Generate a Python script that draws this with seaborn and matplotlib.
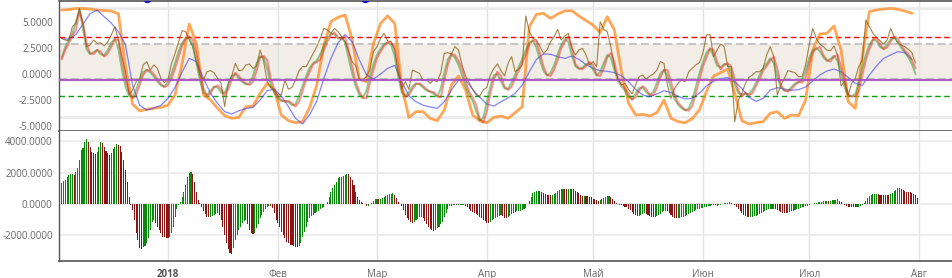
import numpy as np
import pandas as pd
import matplotlib
matplotlib.use("Agg")
import matplotlib.pyplot as plt
import seaborn as sns

# ---------------- data ----------------
START = "2017-12-02"

# thick orange envelope, every 2 days
orange = [6.15, 6.2, 6.3, 6.3, 6.25, 6.15, 6.1, 6.05, 5.8, 0.7,
          -2.9, -3.55, -3.4, -3.3, -3.2, -3.0, -2.0, 1.0, 4.8, 2.95,
          -2.0, -2.5, -3.3, -4.0, -4.26, -4.17, -3.14, -3.08, -1.86, -0.9,
          -1.54, -3.94, -4.49, -4.68, -4.58, -3.2, -1.06, 2.79, 5.03, 5.45,
          5.67, 3.3, -0.5, -0.74, 2.95, 4.87, 5.58, 4.87, -1.22, -4.17,
          -3.62, -3.62, -4.26, -4.49, -3.46, -1.06, -0.19, -1.54, -3.94, -4.49,
          -4.68, -4.17, -4.04, -4.26, -3.72, -3.14, 4.55, 5.74, 5.83, 5.35,
          5.77, 6.06, 6.09, 5.58, 5.13, 4.71, 3.97, 5.51, 4.23, 0.22,
          -2.8, -3.94, -3.88, -4.04, -3.72, -2.5, -4.26, -4.58, -4.68, -4.29,
          -3.46, -1.7, -0.19, 0.13, 0.48, -1.86, -4.49, -4.81, -4.68, -4.58,
          -3.78, -3.62, -4.26, -3.94, -4.0, -2.5, 2.3, 3.85, 3.91, 4.62,
          2.3, -2.66, -3.3, 1.67, 6.0, 6.15, 6.25, 6.31, 6.22, 6.06,
          5.83]

# slow blue line, every 2 days
blue = [3.43, 3.33, 3.8, 4.8, 5.8, 6.15, 5.5, 4.9, 4.07, 2.8,
        -1.1, -3.0, -3.46, -3.27, -3.0, -2.34, -1.28, 0.22, 1.5, 1.19,
        -0.4, -1.86, -2.82, -3.62, -3.85, -3.53, -3.33, -3.2, -2.5, -1.6,
        -1.47, -2.1, -3.14, -4.26, -4.81, -3.9, -2.6, -0.4, 1.5, 3.0,
        3.8, 3.1, 1.35, -0.06, -0.48, 0.0, 0.54, 0.83, -0.74, -2.1,
        -2.66, -3.0, -3.17, -3.3, -2.66, -1.54, -0.58, -0.58, -1.47, -2.24,
        -2.88, -3.08, -2.66, -2.3, -1.86, -1.06, 0.22, 1.41, 1.92, 1.89,
        1.67, 1.5, 1.73, 1.41, 0.9, 0.54, 0.32, 0.26, 0.13, -0.16,
        -0.74, -1.47, -2.02, -2.18, -1.92, -1.6, -1.8, -2.15, -2.4, -2.34,
        -1.86, -1.15, -0.7, -0.45, -0.35, -0.74, -1.38, -2.24, -2.63, -2.34,
        -1.54, -1.31, -1.44, -1.57, -1.5, -1.25, -0.67, -0.1, 0.29, 0.48,
        0.22, -0.32, -0.9, -1.09, -0.1, 0.77, 1.5, 1.83, 2.15, 2.05,
        1.41]

# thin brown raw line, daily
brown = [3.43, 3.27, 3.2, 4.55, 4.87, 6.3, 4.87, 2.63, 2.79, 3.27,
         2.95, 3.0, 2.7, 3.1, 3.75, 4.55, 3.27, 1.67, 0.22, -2.0,
         -1.54, -0.74, -0.42, 0.87, 1.19, 0.38, 0.87, 0.54, -0.42, -0.83,
         -0.51, 1.03, 1.99, 3.1, 4.17, 4.07, 3.27, 2.63, 1.19, -0.1,
         -0.58, 0.22, 0.32, 0.13, -0.42, -0.9, -3.14, -0.9, -0.19, 1.03,
         0.32, 0.38, 0.87, 0.96, 0.54, 0.77, 2.31, 1.19, -0.74, -1.28,
         -1.6, -2.02, -1.96, -0.58, -1.47, -1.28, -0.58, 0.32, 0.71, 0.71,
         1.35, 1.99, 2.63, 3.43, 4.39, 4.23, 3.91, 4.39, 4.07, 3.59,
         3.11, 2.15, 1.19, 0.77, -0.51, -0.58, -0.26, 0.38, 2.15, 2.63,
         3.43, 3.91, 3.2, 3.11, 2.31, 0.06, -1.38, -0.74, -1.47, 0.38,
         0.22, 0.06, -0.64, -0.58, -0.9, -0.58, -0.74, 0.13, 1.99, 2.05,
         1.92, 2.63, 2.31, 0.87, -0.19, -0.83, -1.47, -2.02, -2.12, -1.54,
         -1.28, -0.1, 0.54, 0.96, 0.32, -0.19, 1.03, 1.67, 0.22, 0.45,
         0.87, 5.58, 4.07, 3.43, 3.27, 2.63, 1.99, 2.31, 3.11, 3.59,
         4.29, 3.27, 3.65, 3.91, 2.47, 1.83, 2.31, 2.47, 1.83, 0.87,
         1.19, 0.71, 5.03, 4.29, 4.07, 2.63, 0.71, -0.51, -1.06, -0.9,
         -1.47, -1.92, -1.06, -0.26, -0.1, -0.51, -0.19, 0.0, 0.38, 1.19,
         1.03, -1.06, -2.34, -1.38, -0.9, -0.58, -0.74, 0.22, 0.54, 0.87,
         1.09, 1.99, 3.75, 3.81, 1.67, 2.31, 2.88, 2.63, 0.71, 0.71,
         -4.58, -2.5, -1.86, -0.9, -0.32, -0.1, 0.22, 0.22, 0.54, 1.83,
         2.63, 1.67, -2.02, -1.06, -0.42, 0.32, 0.22, 0.13, -0.26, -0.26,
         0.87, 2.79, 4.39, 3.43, 2.88, 2.63, 2.31, 2.24, 2.69, 1.83,
         -1.15, -0.74, -2.02, -0.9, -0.42, 0.71, 1.35, 5.19, 4.55, 3.91,
         3.53, 3.2, 2.88, 3.27, 4.39, 3.59, 3.01, 2.79, 2.63, 2.37,
         2.05, 1.03]

# smoothed red line, daily
red = [1.41, 2.31, 2.95, 3.65, 4.23, 6.0, 4.9, 2.95, 1.99, 1.92,
       2.31, 2.15, 1.67, 1.99, 2.63, 3.33, 3.27, 1.35, -0.58, -1.7,
       -2.34, -2.02, -1.06, -0.1, 0.38, 0.32, 0.0, -0.51, -0.96, -1.28,
       -1.06, -0.42, 0.54, 1.67, 2.69, 3.4, 3.6, 3.3, 1.99, 0.22,
       -1.38, -2.12, -1.86, -1.28, -1.09, -1.47, -2.02, -1.47, -0.58, 0.13,
       -0.19, -0.64, -0.9, -1.06, -0.74, 0.32, 1.6, 1.73, 1.35, -0.42,
       -1.47, -2.18, -2.5, -2.66, -2.56, -2.82, -3.14, -2.66, -1.6, -0.58,
       0.22, 0.96, 1.15, 1.41, 2.31, 3.11, 3.75, 4.0, 3.53, 3.33,
       3.59, 2.24, 0.71, -0.74, -1.7, -2.28, -2.34, -0.9, 0.38, 1.51,
       2.15, 2.69, 3.08, 2.95, 2.63, 0.71, -1.38, -2.18, -2.02, -1.47,
       -0.96, -0.9, -1.15, -1.47, -1.7, -1.73, -2.12, -2.24, -0.58, 0.87,
       1.92, 1.83, 1.28, 0.54, -0.74, -1.7, -2.24, -3.0, -4.3, -4.68,
       -3.6, -1.86, -0.51, 0.22, -0.19, -1.22, -1.54, -1.22, -0.42, 0.32,
       1.09, 1.83, 2.79, 3.27, 3.11, 1.99, 0.71, -0.1, -0.19, 0.38,
       1.35, 2.47, 3.11, 3.59, 2.63, 0.96, 0.54, 0.45, 0.77, 1.15,
       0.87, -0.1, -0.19, 0.54, 1.6, 2.05, 1.19, -0.32, -0.96, -1.38,
       -1.86, -2.5, -2.24, -1.6, -1.15, -1.47, -2.02, -2.02, -1.38, -0.32,
       0.38, 0.38, -0.74, -2.02, -2.76, -3.14, -3.46, -3.53, -3.08, -1.86,
       -0.58, 0.71, 1.6, 2.47, 2.31, 1.19, 0.45, 0.87, 1.03, 0.77,
       -0.51, -1.54, -2.18, -1.79, -2.02, -1.86, -1.15, -0.51, 0.32, 0.77,
       1.28, 1.67, 0.54, -1.06, -1.54, -1.7, -1.47, -1.06, -0.77, -0.83,
       -0.42, 1.03, 2.05, 2.44, 2.6, 1.83, 1.35, 1.19, 1.67, 1.83,
       0.71, -0.64, -1.92, -2.18, -2.12, -1.7, -0.1, 1.35, 2.37, 3.27,
       3.46, 2.88, 2.37, 2.56, 3.11, 3.59, 3.43, 2.79, 2.24, 1.92,
       1.35, 0.54]

# smoothed green line (slightly leading), daily
green = [1.6, 2.6, 3.3, 3.9, 5.0, 6.2, 4.3, 2.4, 1.9, 2.1,
         2.3, 1.9, 1.8, 2.3, 3.0, 3.4, 2.4, 0.4, -1.2, -2.1,
         -2.2, -1.5, -0.6, 0.2, 0.4, 0.15, -0.25, -0.75, -1.1, -1.2,
         -0.75, 0.05, 1.1, 2.2, 3.0, 3.5, 3.5, 2.7, 1.1, -0.6,
         -1.8, -2.0, -1.6, -1.2, -1.3, -1.8, -1.8, -1.0, -0.2, 0.0,
         -0.4, -0.8, -1.0, -0.9, -0.2, 1.0, 1.7, 1.6, 0.5, -1.0,
         -1.8, -2.35, -2.6, -2.6, -2.7, -3.0, -2.9, -2.1, -1.1, -0.2,
         0.6, 1.05, 1.3, 1.9, 2.7, 3.45, 3.9, 3.8, 3.4, 3.5,
         3.0, 1.5, 0.0, -1.2, -2.0, -2.3, -1.6, -0.2, 0.95, 1.85,
         2.4, 2.9, 3.0, 2.8, 1.7, -0.3, -1.8, -2.1, -1.75, -1.2,
         -0.9, -1.0, -1.3, -1.6, -1.7, -1.9, -2.2, -1.4, 0.15, 1.4,
         1.9, 1.55, 0.9, -0.1, -1.2, -2.0, -2.6, -3.6, -4.5, -4.2,
         -2.7, -1.2, -0.1, 0.0, -0.7, -1.4, -1.4, -0.8, -0.05, 0.7,
         1.45, 2.3, 3.05, 3.2, 2.55, 1.35, 0.3, -0.15, 0.1, 0.85,
         1.9, 2.8, 3.35, 3.1, 1.8, 0.75, 0.5, 0.6, 0.95, 1.0,
         0.4, -0.15, 0.2, 1.05, 1.85, 1.6, 0.4, -0.65, -1.2, -1.6,
         -2.2, -2.4, -1.9, -1.35, -1.3, -1.75, -2.02, -1.7, -0.85, 0.05,
         0.4, -0.2, -1.4, -2.4, -2.95, -3.3, -3.5, -3.3, -2.5, -1.2,
         0.05, 1.15, 2.05, 2.4, 1.75, 0.8, 0.65, 0.95, 0.9, 0.1,
         -1.0, -1.85, -2.0, -1.9, -1.95, -1.5, -0.85, -0.1, 0.55, 1.0,
         1.5, 1.1, -0.25, -1.3, -1.6, -1.6, -1.25, -0.9, -0.8, -0.6,
         0.3, 1.55, 2.25, 2.5, 2.2, 1.6, 1.25, 1.45, 1.75, 1.25,
         0.05, -1.3, -2.05, -2.15, -1.9, -0.9, 0.65, 1.85, 2.8, 3.35,
         3.15, 2.6, 2.45, 2.85, 3.35, 3.5, 3.1, 2.5, 2.1, 1.6,
         0.95, 0.0]

# histogram, every 12 hours
hist = [1360, 1450, 1530, 1700, 1850, 1900, 1920, 1870, 2060, 2280,
        2810, 3450, 3560, 3980, 4150, 3980, 3660, 3340, 3240, 3190,
        3340, 3660, 3940, 3880, 3660, 3410, 3240, 3130, 3240, 3490,
        3660, 3830, 3790, 3710, 3340, 2810, 2170, 1430, 470, -50,
        -380, -1020, -1870, -2300, -2830, -2900, -2730, -2680, -2510, -2190,
        -1660, -1130, -1020, -1200, -1450, -1660, -1870, -2090, -2130, -2150,
        -2200, -2130, -1870, -1450, -810, -340, -60, 150, 470, 790,
        1210, 1750, 1960, 2050, 1920, 1430, 790, 260, 40, -200,
        -450, -650, -800, -850, -830, -780, -720, -650, -600, -700,
        -1000, -1450, -1950, -2500, -2900, -3150, -3200, -2800, -2300, -1980,
        -1660, -1450, -1200, -1065, -1000, -1300, -1650, -1850, -1900, -1850,
        -1550, -1300, -920, -700, -500, -350, -210, -130, -140, -280,
        -600, -1000, -1230, -1450, -1770, -1980, -2190, -2400, -2510, -2600,
        -2650, -2700, -2740, -2770, -2680, -2470, -2090, -1770, -1450, -1130,
        -920, -780, -700, -600, -490, -420, -340, -280, -170, 0,
        150, 470, 790, 1000, 1210, 1430, 1640, 1700, 1750, 1790,
        1880, 1920, 1910, 1750, 1530, 1210, 790, 470, 260, 150,
        40, 0, -130, -120, 0, 40, 190, 300, 340, 320,
        340, 400, 450, 510, 570, 620, 660, 680, 580, 360,
        150, 0, -130, -380, -700, -920, -1020, -1130, -1240, -1150,
        -1050, -950, -850, -820, -900, -1100, -1300, -1500, -1600, -1660,
        -1700, -1650, -1560, -1450, -1300, -1130, -850, -600, -300, -150,
        -100, -60, -60, -70, -60, -60, -50, -50, -100, -200,
        -330, -420, -500, -550, -620, -700, -800, -900, -1000, -1100,
        -1230, -1240, -1150, -1050, -980, -920, -850, -760, -700, -780,
        -880, -920, -850, -750, -640, -560, -510, -470, -450, -430,
        -400, -350, -280, 0, 220, 470, 680, 790, 830, 850,
        820, 790, 720, 660, 600, 570, 560, 580, 660, 730,
        830, 900, 960, 980, 960, 950, 970, 980, 970, 930,
        850, 790, 680, 580, 520, 530, 520, 510, 460, 420,
        350, 300, 240, 210, 250, 300, 360, 420, 480, 510,
        450, 320, 210, 90, 0, -40, -80, -120, -160, -200,
        -300, -380, -500, -620, -720, -770, -760, -680, -620, -600,
        -650, -700, -760, -800, -810, -810, -780, -700, -620, -540,
        -470, -420, -450, -560, -700, -810, -870, -910, -910, -880,
        -850, -810, -760, -700, -640, -560, -490, -430, -380, -340,
        -290, -260, -230, -200, -160, -140, -110, -90, -70, -80,
        -110, -80, -50, 0, 50, 85, 90, 100, 90, 30,
        -60, -200, -330, -450, -600, -700, -790, -840, -850, -840,
        -820, -790, -750, -690, -620, -560, -500, -450, -400, -350,
        -330, -310, -300, -320, -380, -450, -500, -550, -590, -600,
        -580, -520, -470, -420, -370, -330, -290, -250, -220, -190,
        -150, -110, -60, 0, 30, 60, 80, 100, 130, 150,
        180, 185, 200, 190, 210, 240, 250, 280, 300, 220,
        120, 20, -60, -120, -160, -180, -200, -210, -215, -180,
        -170, -130, -80, 50, 200, 380, 500, 570, 620, 660,
        670, 640, 600, 590, 580, 570, 560, 555, 620, 720,
        800, 900, 1000, 1050, 960, 880, 820, 790, 770, 750,
        720, 660, 560, 400]

# horizontal levels of the upper panel
level_upper_dash = 3.53
level_band_hi = 2.91
level_band_lo = -0.45
level_mid = -0.61
level_lower_dash = -2.14
level_outer_hi = 6.35
level_outer_lo = -4.1

# partly hidden blue markers at the top edge
event_dates = ["2017-12-26 02:00", "2018-02-25 12:00"]
event_level = [7.33, 7.33]

month_ticks = ["2018-01-01", "2018-02-01", "2018-03-01", "2018-04-01",
               "2018-05-01", "2018-06-01", "2018-07-01", "2018-08-01"]
month_labels = ["2018", "Фев", "Мар", "Апр", "Май", "Июн", "Июл", "Авг"]
top_ticks = [5.0, 2.5, 0.0, -2.5, -5.0]
bottom_ticks = [4000, 2000, 0, -2000]

# ---------------- drawing ----------------
sns.set_theme(style="white")
plt.rcParams["font.family"] = ["Open Sans", "DejaVu Sans"]

W, H = 953, 278
fig = plt.figure(figsize=(W / 100, H / 100), dpi=100)
left = 59 / W
width = (W - 59) / W
ax1 = fig.add_axes([left, 1 - 131 / H, width, 130 / H])
ax2 = fig.add_axes([left, 1 - 261 / H, width, 130 / H], sharex=ax1)

start = pd.Timestamp(START)
d_orange = pd.date_range(start, periods=len(orange), freq="2D")
d_blue = pd.date_range(start, periods=len(blue), freq="2D")
d_brown = pd.date_range(start, periods=len(brown), freq="D")
d_red = pd.date_range(start, periods=len(red), freq="D")
d_green = pd.date_range(start, periods=len(green), freq="D")
d_hist = pd.date_range(start, periods=len(hist), freq="12h")

jan1 = pd.Timestamp("2018-01-01")
xmin = jan1 - pd.Timedelta(days=30.77)
xmax = jan1 + pd.Timedelta(days=221.6)

# upper panel background levels
ax1.axhspan(level_band_lo, level_band_hi, color="#f2ede6", lw=0, zorder=0)
for lv in (level_band_hi, level_band_lo):
    ax1.axhline(lv, color="#c6c6c6", lw=1.5, dashes=(3.8, 1.9), zorder=1)
for lv in (level_outer_hi, level_outer_lo):
    ax1.axhline(lv, color="#eaeaea", lw=2.0, zorder=1)
ax1.axhline(level_upper_dash, color="#ff0000", lw=1.0, dashes=(4, 2.5), zorder=2)
ax1.axhline(level_lower_dash, color="#11a011", lw=1.0, dashes=(4, 2.5), zorder=2)

def line(ax, dates, vals, **kw):
    sns.lineplot(x=dates, y=vals, ax=ax, estimator=None, sort=False,
                 legend=False, **kw)

line(ax1, d_orange, orange, color="#ff8a1f", lw=2.0, alpha=0.75, zorder=3)
line(ax1, d_blue, blue, color="#3333ff", lw=0.9, alpha=0.6, zorder=4)
line(ax1, d_brown, brown, color="#8a5a0a", lw=0.8, alpha=0.75, zorder=5)
line(ax1, d_green, green, color="#1f9a1f", lw=1.4, alpha=0.5, zorder=6)
line(ax1, d_red, red, color="#ff2020", lw=1.4, alpha=0.5, zorder=6)
ax1.axhline(level_mid, color="#a650c0", lw=1.6, alpha=0.9, zorder=7)

sns.scatterplot(x=pd.to_datetime(event_dates), y=event_level, ax=ax1,
                color="#1010d0", s=45, linewidth=0, legend=False,
                clip_on=True, zorder=8)

# lower panel histogram
hv = np.asarray(hist, dtype=float)
prev = np.concatenate([[hv[0] - 1], hv[:-1]])
colors = np.where(hv >= prev, "#0a8a0a", "#8b1414")
ax2.bar(d_hist, hv, width=0.3, color=colors, linewidth=0, zorder=3)

# axes styling
ax1.set_xlim(xmin, xmax)
ax1.set_ylim(-5.48, 7.02)
ax2.set_ylim(-3642, 4665)

for ax in (ax1, ax2):
    ax.set_xlabel("")
    ax.set_ylabel("")
    ax.set_xticks(pd.to_datetime(month_ticks))
    ax.grid(axis="x", color="#e4e4e4", lw=1.0, zorder=0)
    ax.spines["right"].set_visible(False)
    ax.spines["left"].set_color("#555555")
    ax.spines["left"].set_linewidth(1.0)
    ax.tick_params(axis="y", length=2, width=0.8, color="#555555",
                   pad=2.5, labelsize=7.0, labelcolor="#666666")
    ax.set_axisbelow(True)

ax2.grid(axis="y", color="#ececec", lw=1.3, zorder=0)
ax1.grid(axis="y", visible=False)

ax1.spines["top"].set_color("#555555")
ax1.spines["top"].set_linewidth(1.2)
ax1.spines["bottom"].set_color("#555555")
ax1.spines["bottom"].set_linewidth(1.2)
ax2.spines["top"].set_visible(False)
ax2.spines["bottom"].set_color("#555555")
ax2.spines["bottom"].set_linewidth(1.2)

ax1.set_yticks(top_ticks)
ax1.set_yticklabels([f"{v:.4f}" for v in top_ticks])
ax2.set_yticks(bottom_ticks)
ax2.set_yticklabels([f"{v:.4f}" for v in bottom_ticks])

ax1.tick_params(axis="x", length=0, labelbottom=False)
ax2.tick_params(axis="x", length=4, width=1, color="#dcdcdc", pad=1.5,
                labelsize=7.0, labelcolor="#666666")
ax2.set_xticklabels(month_labels)
for lab in ax2.get_xticklabels():
    if lab.get_text() == "2018":
        lab.set_fontweight("bold")
        lab.set_color("#555555")

fig.savefig("out.png", dpi=100)
